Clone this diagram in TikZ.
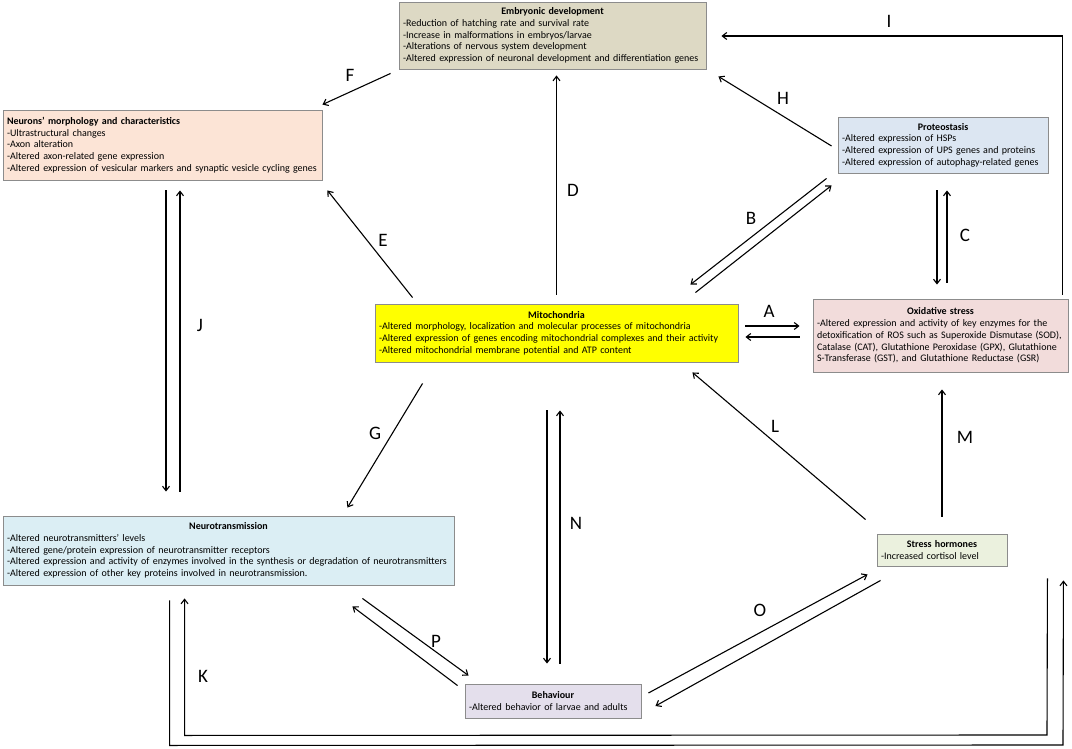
\documentclass[tikz,border=0pt]{standalone}
\usepackage{fontspec}
\setmainfont{Carlito}
\usetikzlibrary{arrows.meta,calc}
\definecolor{embc}{HTML}{DDD9C4}
\definecolor{neuc}{HTML}{FCE4D6}
\definecolor{protc}{HTML}{DCE6F2}
\definecolor{mitoc}{HTML}{FFFF00}
\definecolor{oxic}{HTML}{F2DCDB}
\definecolor{ntc}{HTML}{DBEEF4}
\definecolor{strc}{HTML}{EBF1DE}
\definecolor{behc}{HTML}{E4DFEC}
\definecolor{boxgray}{HTML}{8C8C8C}
\begin{document}
\begin{tikzpicture}[x=1pt,y=-1pt,
  box/.style={draw=boxgray, line width=0.9pt, inner xsep=4pt, inner ysep=2pt, align=left,
    font=\fontsize{10}{11.7}\selectfont},
  lab/.style={font=\fontsize{19}{22}\selectfont, inner sep=0pt},
  arr/.style={-{Straight Barb[length=4.5pt,width=7pt]}, line width=1.1pt}]
\useasboundingbox (0,0) rectangle (1072,749);

% boxes
\node[box, fill=embc, minimum width=307pt, minimum height=67pt, text width=299pt] (emb) at (552.5,35.5)
 {\makebox[\hsize]{\textbf{Embryonic development}}\\
  -Reduction of hatching rate and survival rate\\
  -Increase in malformations in embryos/larvae\\
  -Alterations of nervous system development\\
  -Altered expression of neuronal development and differentiation genes};
\node[box, fill=neuc, minimum width=319pt, minimum height=70pt, text width=311pt] (neu) at (162.5,145)
 {\textbf{Neurons’ morphology and characteristics}\\
  -Ultrastructural changes\\
  -Axon alteration\\
  -Altered axon-related gene expression\\
  -Altered expression of vesicular markers and synaptic vesicle cycling genes};
\node[box, fill=protc, minimum width=210pt, minimum height=56pt, text width=202pt] (prot) at (943,145)
 {\makebox[\hsize]{\textbf{Proteostasis}}\\
  -Altered expression of HSPs\\
  -Altered expression of UPS genes and proteins\\
  -Altered expression of autophagy-related genes};
\node[box, fill=mitoc, minimum width=363pt, minimum height=58pt, text width=355pt] (mito) at (556.5,333)
 {\makebox[\hsize]{\textbf{Mitochondria}}\\
  -Altered morphology, localization and molecular processes of mitochondria\\
  -Altered expression of genes encoding mitochondrial complexes and their activity\\
  -Altered mitochondrial membrane potential and ATP content};
\node[box, fill=oxic, minimum width=255pt, minimum height=73pt, text width=247pt] (oxi) at (940.5,335.5)
 {\makebox[\hsize]{\textbf{Oxidative stress}}\\
  -Altered expression and activity of key enzymes for the\\
  detoxification of ROS such as Superoxide Dismutase (SOD),\\
  Catalase (CAT), Glutathione Peroxidase (GPX), Glutathione\\
  S-Transferase (GST), and Glutathione Reductase (GSR)};
\node[box, fill=ntc, minimum width=451pt, minimum height=69pt, text width=443pt] (nt) at (228.5,550.5)
 {\makebox[\hsize]{\textbf{Neurotransmission}}\\
  -Altered neurotransmitters' levels\\
  -Altered gene/protein expression of neurotransmitter receptors\\
  -Altered expression and activity of enzymes involved in the synthesis or degradation of neurotransmitters\\
  -Altered expression of other key proteins involved in neurotransmission.};
\node[box, fill=strc, minimum width=130pt, minimum height=32pt, text width=122pt] (str) at (942,550)
 {\makebox[\hsize]{\textbf{Stress hormones}}\\
  -Increased cortisol level};
\node[box, fill=behc, minimum width=176pt, minimum height=34pt, text width=168pt] (beh) at (553,701)
 {\makebox[\hsize]{\textbf{Behaviour}}\\
  -Altered behavior of larvae and adults};

% A
\draw[arr] ($(mito.east)+(7,-7)$) -- ($(oxi.west)+(-13,-9.5)$);
\draw[arr] ($(oxi.west)+(-13,1.5)$) -- ($(mito.east)+(7,4)$);
\node[lab] (lA) at (769,311) {A};
% B
\draw[arr] ($(prot.south west)+(-11,5)$) -- ($(mito.north east)+(-48,-19)$);
\draw[arr] ($(mito.north east)+(-43,-11)$) -- ($(prot.south west)+(-6,12)$);
\node[lab] (lB) at (751,218) {B};
% C
\draw[arr] ($(prot.south)+(-6,17)$) -- ($(oxi.north)+(-3.5,-14)$);
\draw[arr] ($(oxi.north)+(6.5,-16)$) -- ($(prot.south)+(4,17)$);
\node[lab] (lC) at (965,235) {C};
% D
\draw[arr] ($(mito.north)+(0,-9)$) -- ($(mito.north |- emb.south)+(0,6)$);
\node[lab] (lD) at (573,190) {D};
% E
\draw[arr] ($(mito.north west)+(38,-6)$) -- ($(neu.south east)+(5,10)$);
\node[lab] (lE) at (383,240) {E};
% F
\draw[arr] ($(emb.south west)+(-8,4)$) -- ($(neu.north east)+(0,-5)$);
\node[lab] (lF) at (350,75) {F};
% G
\draw[arr] ($(mito.south west)+(48,21)$) -- ($(nt.north east)+(-107,-8)$);
\node[lab] (lG) at (375,433) {G};
% H
\draw[arr] ($(prot.west)+(-6,1)$) -- ($(emb.south east)+(12,7)$);
\node[lab] (lH) at (783,98) {H};
% I
\draw[arr] ($(oxi.north east)+(-6,-4)$) -- ($(oxi.north east |- emb.east)+(-6,0.5)$) -- ($(emb.east)+(15,0.5)$);
\node[lab] (lI) at (889,21) {I};
% J
\draw[arr] ($(neu.south)+(3.5,10)$) -- ($(nt.north -| neu.south)+(3.5,-24)$);
\draw[arr] ($(nt.north -| neu.south)+(17.5,-24)$) -- ($(neu.south)+(17.5,10)$);
\node[lab] (lJ) at (200,325) {J};
% K
\coordinate (kin) at ($(oxi.south east)+(-21,206)$);
\coordinate (kout) at ($(oxi.south east)+(-5,208)$);
\draw[arr] (kin) -- (1047,735) -- ($(nt.south west)+(182,150)$) -- ($(nt.south west)+(182,13)$);
\draw[arr] ($(nt.south west)+(167,15)$) -- ($(nt.south west)+(167,160)$) -- (1063,745) -- (kout);
\node[lab] (lK) at (203,676) {K};
% L
\draw[arr] ($(str.north west)+(-11,-14)$) -- ($(mito.south east)+(-46,10)$);
\node[lab] (lL) at (775,426) {L};
% M
\draw[arr] ($(str.north)+(0,-17)$) -- ($(str.north |- oxi.south)+(0,17)$);
\node[lab] (lM) at (965,437) {M};
% N
\draw[arr] ($(mito.south)+(-9.5,48)$) -- ($(beh.north)+(-6,-20)$);
\draw[arr] ($(beh.north)+(7,-20)$) -- ($(mito.south)+(3.5,48)$);
\node[lab] (lN) at (576,523) {N};
% O
\draw[arr] ($(beh.east)+(7,-8)$) -- ($(str.south west)+(-9,8)$);
\draw[arr] ($(str.south west)+(4,14)$) -- ($(beh.east)+(14,5)$);
\node[lab] (lO) at (760,610) {O};
% P
\draw[arr] ($(nt.south east)+(-92,13)$) -- ($(beh.north west)+(4,-8)$);
\draw[arr] ($(beh.north west)+(-7,2)$) -- ($(nt.south east)+(-102,21)$);
\node[lab] (lP) at (436,641) {P};
\end{tikzpicture}
\end{document}
